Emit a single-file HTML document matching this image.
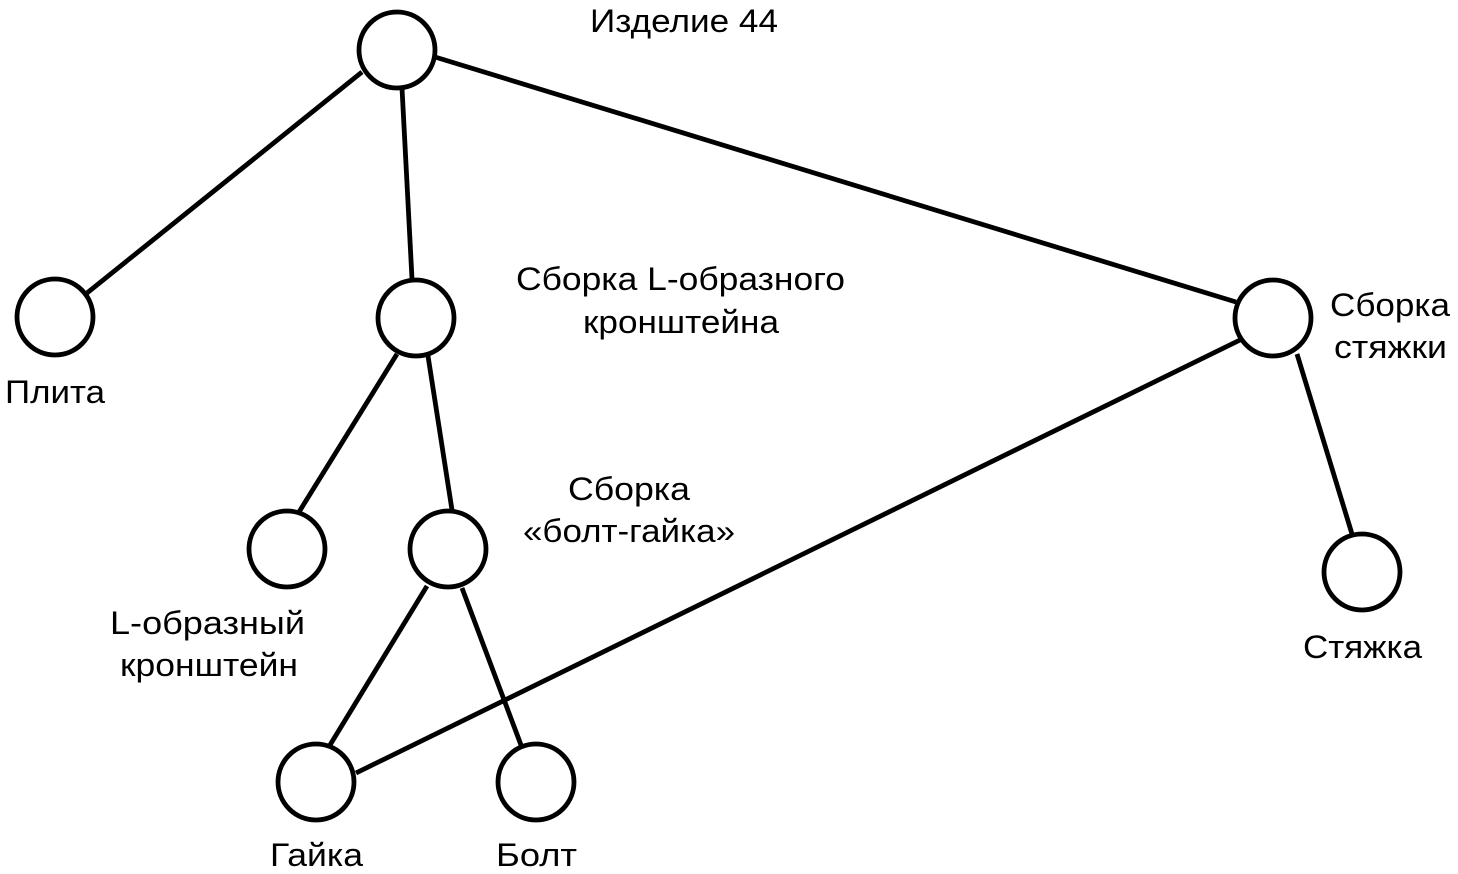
<!DOCTYPE html>
<html><head><meta charset="utf-8"><style>
html,body{margin:0;padding:0;background:#fff;}
svg{display:block;}
text{font-family:"Liberation Sans",Arial,sans-serif;font-size:32px;fill:#000;}
</style></head><body>
<svg width="1458" height="874" viewBox="0 0 1458 874" xmlns="http://www.w3.org/2000/svg">
<g stroke="#000" stroke-width="4.8" fill="none">
<line x1="362" y1="72" x2="87" y2="293"/>
<line x1="402" y1="88" x2="412" y2="279"/>
<line x1="435" y1="57" x2="1236" y2="302"/>
<line x1="397" y1="354" x2="299" y2="512"/>
<line x1="428" y1="356" x2="452" y2="510"/>
<line x1="427" y1="586" x2="330" y2="745"/>
<line x1="462" y1="588" x2="521" y2="745"/>
<line x1="1240" y1="340" x2="356" y2="773"/>
<line x1="1297" y1="354" x2="1352" y2="534"/>
<g fill="#fff">
<circle cx="397" cy="50" r="38"/>
<circle cx="55" cy="317" r="38"/>
<circle cx="416" cy="318" r="38"/>
<circle cx="1273" cy="318" r="38"/>
<circle cx="287" cy="549" r="38"/>
<circle cx="448" cy="549" r="38"/>
<circle cx="1362" cy="572" r="38"/>
<circle cx="316" cy="782" r="38"/>
<circle cx="536" cy="782" r="38"/>
</g>
</g>
<text x="590" y="32" textLength="188" lengthAdjust="spacingAndGlyphs">Изделие 44</text>
<text x="5" y="403" textLength="100" lengthAdjust="spacingAndGlyphs">Плита</text>
<text x="516" y="290" textLength="329" lengthAdjust="spacingAndGlyphs">Сборка L-образного</text>
<text x="583" y="333" textLength="196" lengthAdjust="spacingAndGlyphs">кронштейна</text>
<text x="1330" y="316" textLength="120" lengthAdjust="spacingAndGlyphs">Сборка</text>
<text x="1334" y="358" textLength="113" lengthAdjust="spacingAndGlyphs">стяжки</text>
<text x="568" y="500" textLength="122" lengthAdjust="spacingAndGlyphs">Сборка</text>
<text x="523" y="542" textLength="212" lengthAdjust="spacingAndGlyphs">«болт-гайка»</text>
<text x="110" y="634" textLength="195" lengthAdjust="spacingAndGlyphs">L-образный</text>
<text x="120" y="676" textLength="178" lengthAdjust="spacingAndGlyphs">кронштейн</text>
<text x="1303" y="658" textLength="119" lengthAdjust="spacingAndGlyphs">Стяжка</text>
<text x="270" y="866" textLength="93" lengthAdjust="spacingAndGlyphs">Гайка</text>
<text x="496" y="866" textLength="81" lengthAdjust="spacingAndGlyphs">Болт</text>
</svg>
</body></html>
